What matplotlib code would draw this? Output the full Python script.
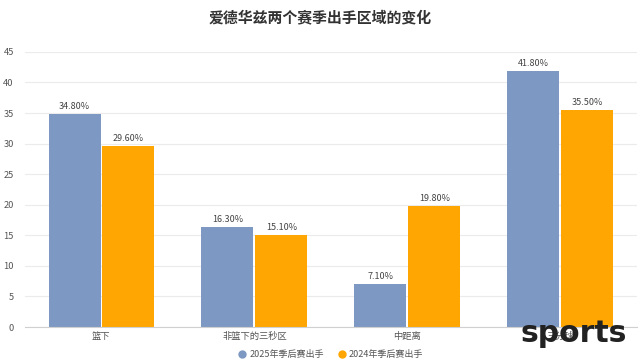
import matplotlib.pyplot as plt
from matplotlib.lines import Line2D
import numpy as np

plt.rcParams['font.family'] = ['Noto Sans CJK SC', 'DejaVu Sans']

categories = ['篮下', '非篮下的三秒区', '中距离', '三分球']
season_2025 = [34.8, 16.3, 7.1, 41.8]
season_2024 = [29.6, 15.1, 19.8, 35.5]
series_names = ['2025年季后赛出手', '2024年季后赛出手']
colors = ['#7d98c2', '#ffa602']

fig = plt.figure(figsize=(6.4, 3.63), dpi=100)
ax = fig.add_axes([0.039, 0.099, 0.956, 0.758])

x = np.arange(len(categories))
w = 0.34
b1 = ax.bar(x - w / 2 - 0.006, season_2025, w, color=colors[0])
b2 = ax.bar(x + w / 2 + 0.006, season_2024, w, color=colors[1])

for bars in (b1, b2):
    for r in bars:
        ax.text(r.get_x() + r.get_width() / 2, r.get_height() + 0.5, '%.2f%%' % r.get_height(),
                ha='center', va='bottom', fontsize=6.5, color='#444444')

ax.set_xlim(-0.5, len(categories) - 0.5)
ax.set_ylim(0, 45)
ax.set_yticks(range(0, 50, 5))
ax.set_xticks(x)
ax.set_xticklabels(categories)
ax.tick_params(axis='both', length=0, labelsize=6.7, colors='#555555')
ax.tick_params(axis='y', pad=8)
ax.grid(axis='y', color='#ebebeb', linewidth=0.8)
ax.set_axisbelow(True)
for s in ['top', 'right', 'left']:
    ax.spines[s].set_visible(False)
ax.spines['bottom'].set_color('#d0d0d0')

fig.suptitle('爱德华兹两个赛季出手区域的变化', y=0.975, fontsize=10.7, fontweight='bold', color='#333333')

handles = [Line2D([], [], linestyle='none', marker='o', markersize=5, color=c) for c in colors]
ax.legend(handles, series_names, loc='lower center', bbox_to_anchor=(0.5, -0.145), ncol=2,
          frameon=False, fontsize=6.5, handlelength=0.8, labelcolor='#555555',
          columnspacing=1.6, handletextpad=0.4)

# watermark seen in the source image
fig.text(0.98, 0.04, 'sports', ha='right', va='bottom', fontsize=21.5, fontweight='bold',
         color='#222222', family='DejaVu Sans')

fig.savefig('out.png')
